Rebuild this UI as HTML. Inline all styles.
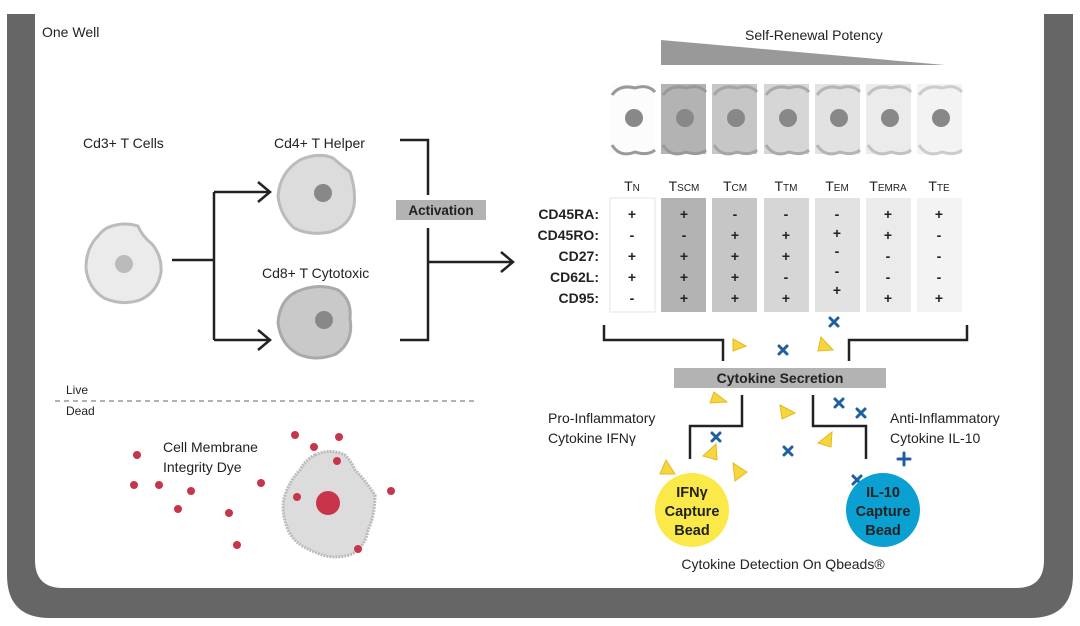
<!DOCTYPE html>
<html><head><meta charset="utf-8"><style>
html,body{margin:0;padding:0;background:#fff;}
svg{display:block;}
text{font-family:"Liberation Sans",sans-serif;fill:#222;}
</style></head><body>
<svg width="1080" height="626" viewBox="0 0 1080 626" xmlns="http://www.w3.org/2000/svg">
<path d="M7,14 H35 V560 Q35,588 63,588 H1016 Q1044,588 1044,560 V14 H1073 V575 Q1073,618 1030,618 H50 Q7,618 7,575 Z" fill="#666"/>
<text x="42" y="37" font-size="14">One Well</text>

<text x="83" y="148" font-size="14">Cd3+ T Cells</text>
<text x="274" y="148" font-size="14">Cd4+ T Helper</text>
<text x="262" y="278" font-size="14">Cd8+ T Cytotoxic</text>
<path d="M112,226 Q125,222 138,226 Q142,236 152,244 Q162,256 161,272 Q158,292 140,300 Q122,306 104,298 Q88,288 86,268 Q86,248 98,236 Q104,228 112,226 Z" fill="#ebebeb" stroke="#bbb" stroke-width="3"/>
<circle cx="124" cy="264" r="9" fill="#bbb"/>
<path d="M300,160 Q318,152 333,158 Q342,166 350,172 Q356,190 354,206 Q350,226 330,232 Q310,236 294,228 Q280,215 278,196 Q280,172 300,160 Z" fill="#dcdcdc" stroke="#bbb" stroke-width="3"/>
<circle cx="323" cy="193" r="9" fill="#888"/>
<path d="M296,292 Q318,282 338,290 Q352,300 350,318 Q354,342 336,354 Q316,362 298,354 Q280,344 278,322 Q280,300 296,292 Z" fill="#c9c9c9" stroke="#aaa" stroke-width="3"/>
<circle cx="324" cy="320" r="9" fill="#888"/>
<g stroke="#222" stroke-width="2.5" fill="none">
<path d="M172,260 H214 M214,192 V340 M214,192 H270 M214,340 H270"/>
<path d="M258,182 L270,192 L258,202 M258,330 L270,340 L258,350"/>
<path d="M400,140 H428 V195 M428,228 V340 H400 M428,262 H513"/>
<path d="M501,252 L513,262 L501,272"/>
</g>
<rect x="396" y="200" width="90" height="20" fill="#b3b3b3"/>
<text x="441" y="215" font-size="13.5" font-weight="bold" text-anchor="middle">Activation</text>

<text x="66" y="394" font-size="12">Live</text>
<line x1="55" y1="401" x2="475" y2="401" stroke="#666" stroke-dasharray="5,4"/>
<text x="66" y="415" font-size="12">Dead</text>
<text x="163" y="452" font-size="14">Cell Membrane</text>
<text x="163" y="472" font-size="14">Integrity Dye</text>
<path d="M315,455 Q330,448 345,455 Q352,462 355,470 Q365,480 375,495 Q375,515 368,530 Q365,548 350,555 Q330,560 315,552 Q295,545 288,530 Q280,510 285,495 Q290,480 300,470 Q305,460 315,455 Z" fill="#dcdcdc" stroke="#bbb" stroke-width="3" stroke-dasharray="2,1"/>
<g fill="#c8344a">
<circle cx="328" cy="503" r="12"/>
<circle cx="137" cy="455" r="4"/><circle cx="134" cy="485" r="4"/><circle cx="159" cy="485" r="4"/>
<circle cx="191" cy="491" r="4"/><circle cx="178" cy="509" r="4"/><circle cx="229" cy="513" r="4"/>
<circle cx="261" cy="483" r="4"/><circle cx="237" cy="545" r="4"/><circle cx="295" cy="435" r="4"/>
<circle cx="314" cy="447" r="4"/><circle cx="339" cy="437" r="4"/><circle cx="337" cy="461" r="4"/>
<circle cx="297" cy="497" r="4"/><circle cx="391" cy="491" r="4"/><circle cx="358" cy="549" r="4"/>
</g>

<text x="745" y="40" font-size="14">Self-Renewal Potency</text>
<path d="M661,40 L945,65 L661,65 Z" fill="#999"/>
<g stroke-width="3">
<g><rect x="610" y="84" width="45" height="70" fill="#fcfcfc"/><path d="M612,95 Q620,84 635,88 Q648,84 655,92 M612,145 Q620,158 635,152 Q648,156 655,150" fill="none" stroke="#999"/><ellipse cx="634" cy="118" rx="9" ry="9" fill="#888"/></g>
<g><rect x="661" y="84" width="45" height="70" fill="#b3b3b3"/><path d="M663,95 Q671,84 686,88 Q699,84 706,92 M663,145 Q671,158 686,152 Q699,156 706,150" fill="none" stroke="#999"/><ellipse cx="685" cy="118" rx="9" ry="9" fill="#888"/></g>
<g><rect x="712" y="84" width="45" height="70" fill="#c6c6c6"/><path d="M714,95 Q722,84 737,88 Q750,84 757,92 M714,145 Q722,158 737,152 Q750,156 757,150" fill="none" stroke="#a5a5a5"/><ellipse cx="736" cy="118" rx="9" ry="9" fill="#888"/></g>
<g><rect x="764" y="84" width="45" height="70" fill="#d6d6d6"/><path d="M766,95 Q774,84 789,88 Q802,84 809,92 M766,145 Q774,158 789,152 Q802,156 809,150" fill="none" stroke="#aaa"/><ellipse cx="788" cy="118" rx="9" ry="9" fill="#888"/></g>
<g><rect x="815" y="84" width="45" height="70" fill="#e2e2e2"/><path d="M817,95 Q825,84 840,88 Q853,84 860,92 M817,145 Q825,158 840,152 Q853,156 860,150" fill="none" stroke="#b5b5b5"/><ellipse cx="839" cy="118" rx="9" ry="9" fill="#888"/></g>
<g><rect x="866" y="84" width="45" height="70" fill="#ebebeb"/><path d="M868,95 Q876,84 891,88 Q904,84 911,92 M868,145 Q876,158 891,152 Q904,156 911,150" fill="none" stroke="#c2c2c2"/><ellipse cx="890" cy="118" rx="9" ry="9" fill="#888"/></g>
<g><rect x="917" y="84" width="45" height="70" fill="#f3f3f3"/><path d="M919,95 Q927,84 942,88 Q955,84 962,92 M919,145 Q927,158 942,152 Q955,156 962,150" fill="none" stroke="#ccc"/><ellipse cx="941" cy="118" rx="9" ry="9" fill="#888"/></g>
</g>

<rect x="610" y="198" width="45" height="114" fill="#fff" stroke="#e6e6e6"/>
<rect x="661" y="198" width="45" height="114" fill="#b3b3b3"/>
<rect x="712" y="198" width="45" height="114" fill="#c6c6c6"/>
<rect x="764" y="198" width="45" height="114" fill="#d6d6d6"/>
<rect x="815" y="198" width="45" height="114" fill="#e2e2e2"/>
<rect x="866" y="198" width="45" height="114" fill="#ebebeb"/>
<rect x="917" y="198" width="45" height="114" fill="#f3f3f3"/>
<g font-size="14" text-anchor="middle">
<text x="632" y="191">T<tspan font-size="10">N</tspan></text>
<text x="684" y="191">T<tspan font-size="10">SCM</tspan></text>
<text x="735" y="191">T<tspan font-size="10">CM</tspan></text>
<text x="786" y="191">T<tspan font-size="10">TM</tspan></text>
<text x="837" y="191">T<tspan font-size="10">EM</tspan></text>
<text x="888" y="191">T<tspan font-size="10">EMRA</tspan></text>
<text x="939" y="191">T<tspan font-size="10">TE</tspan></text>
</g>
<g font-size="14" font-weight="bold" text-anchor="end">
<text x="599" y="219">CD45RA:</text><text x="599" y="240">CD45RO:</text><text x="599" y="261">CD27:</text><text x="599" y="282">CD62L:</text><text x="599" y="303">CD95:</text>
</g>
<g font-size="14" font-weight="bold" text-anchor="middle">
<text x="632" y="219">+</text><text x="632" y="240">-</text><text x="632" y="261">+</text><text x="632" y="282">+</text><text x="632" y="303">-</text>
<text x="684" y="219">+</text><text x="684" y="240">-</text><text x="684" y="261">+</text><text x="684" y="282">+</text><text x="684" y="303">+</text>
<text x="735" y="219">-</text><text x="735" y="240">+</text><text x="735" y="261">+</text><text x="735" y="282">+</text><text x="735" y="303">+</text>
<text x="786" y="219">-</text><text x="786" y="240">+</text><text x="786" y="261">+</text><text x="786" y="282">-</text><text x="786" y="303">+</text>
<text x="837" y="219">-</text><text x="837" y="238">+</text><text x="837" y="256">-</text><text x="837" y="276">-</text><text x="837" y="295">+</text>
<text x="888" y="219">+</text><text x="888" y="240">+</text><text x="888" y="261">-</text><text x="888" y="282">-</text><text x="888" y="303">+</text>
<text x="939" y="219">+</text><text x="939" y="240">-</text><text x="939" y="261">-</text><text x="939" y="282">-</text><text x="939" y="303">+</text>
</g>

<g stroke="#222" stroke-width="2.5" fill="none">
<path d="M604,325 V340 H723 V361"/>
<path d="M967,325 V340 H849 V361"/>
<path d="M742,395 V426 H690 V459"/>
<path d="M813,395 V426 H866 V459"/>
</g>
<rect x="674" y="368" width="212" height="20" fill="#b3b3b3"/>
<text x="780" y="383" font-size="14" font-weight="bold" text-anchor="middle">Cytokine Secretion</text>
<text x="548" y="423" font-size="14">Pro-Inflammatory</text>
<text x="548" y="443" font-size="14">Cytokine IFNγ</text>
<text x="890" y="423" font-size="14">Anti-Inflammatory</text>
<text x="890" y="443" font-size="14">Cytokine IL-10</text>
<g fill="#f5d63d" stroke="#e6b820" stroke-width="1">
<path d="M733,339 L746,346 L733,351 Z"/>
<path d="M821,337 L833,350 L818,351 Z"/>
<path d="M714,392 L727,402 L710,403 Z"/>
<path d="M780,405 L795,413 L782,419 Z"/>
<path d="M832,432 L831,447 L818,443 Z"/>
<path d="M716,444 L717,460 L703,456 Z"/>
<path d="M666,460 L675,474 L660,474 Z"/>
<path d="M733,463 L747,472 L735,481 Z"/>
</g>
<g stroke="#1e5fa0" stroke-width="3" stroke-linecap="round">
<path d="M830,318 L838,326 M838,318 L830,326"/>
<path d="M779,346 L787,354 M787,346 L779,354"/>
<path d="M835,399 L843,407 M843,399 L835,407"/>
<path d="M857,409 L865,417 M865,409 L857,417"/>
<path d="M712,433 L720,441 M720,433 L712,441"/>
<path d="M784,447 L792,455 M792,447 L784,455"/>
<path d="M853,476 L861,484 M861,476 L853,484"/>
<path d="M904,453 V465 M898,459 H910"/>
</g>
<circle cx="692" cy="510" r="37" fill="#fbe94a"/>
<circle cx="883" cy="510" r="37" fill="#0aa0d2"/>
<g font-size="14.5" font-weight="bold" text-anchor="middle">
<text x="692" y="497">IFNγ</text><text x="692" y="516">Capture</text><text x="692" y="535">Bead</text>
<text x="883" y="497">IL-10</text><text x="883" y="516">Capture</text><text x="883" y="535">Bead</text>
</g>
<text x="783" y="569" font-size="14" text-anchor="middle">Cytokine Detection On Qbeads®</text>
</svg>
</body></html>
